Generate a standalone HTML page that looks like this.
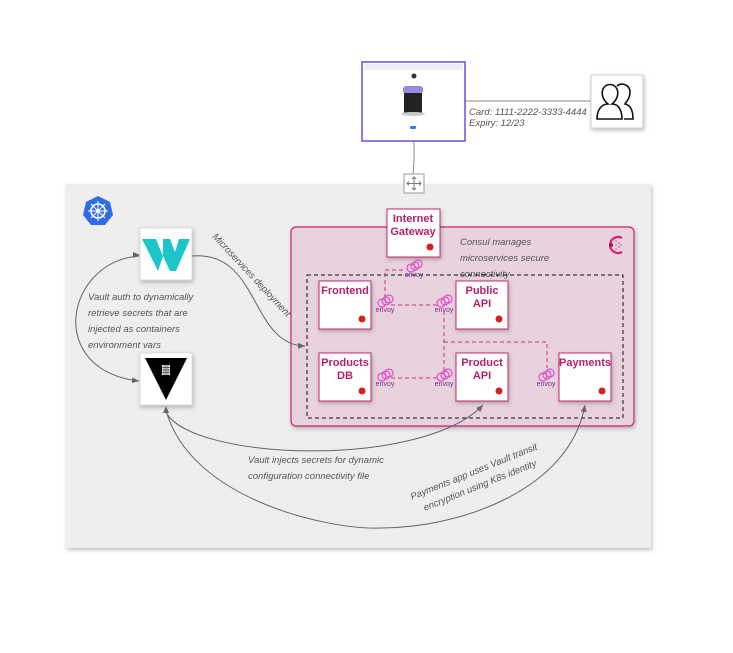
<!DOCTYPE html>
<html><head><style>
html,body{margin:0;padding:0;background:#fff;}
svg{display:block;}
.h{font-family:"Liberation Sans",sans-serif;font-style:italic;fill:#555;font-size:9.5px;}
.n{font-family:"Liberation Sans",sans-serif;font-weight:bold;fill:#b8206a;font-size:11px;text-anchor:middle;}
.ev{font-family:"Liberation Sans",sans-serif;fill:#7a2a8a;font-size:7px;text-anchor:middle;}
</style></head><body>
<svg width="733" height="653" viewBox="0 0 733 653" xmlns="http://www.w3.org/2000/svg">
<defs>
<filter id="sh" x="-10%" y="-10%" width="130%" height="130%"><feDropShadow dx="1" dy="2" stdDeviation="2" flood-color="#000" flood-opacity="0.25"/></filter>
<marker id="ar" markerWidth="8" markerHeight="8" refX="7" refY="4" orient="auto" markerUnits="userSpaceOnUse"><path d="M0,1 L7,4 L0,7 z" fill="#666"/></marker>
<g id="envoy">
<circle cx="-3" cy="0" r="4" fill="none" stroke="#e050c8" stroke-width="1.2"/>
<circle cx="1" cy="-2" r="4" fill="none" stroke="#e050c8" stroke-width="1.2"/>
<circle cx="4" cy="-4" r="4" fill="none" stroke="#e050c8" stroke-width="1.2"/>
<text x="0" y="9" class="ev">envoy</text>
</g>
</defs>
<rect x="66" y="184" width="585" height="364" fill="#eeeeee" filter="url(#sh)"/>
<polygon points="98,196 110,202 113,215 105,225 91,225 83,215 86,202" fill="#326ce5"/>
<circle cx="98" cy="211" r="7" fill="none" stroke="#fff" stroke-width="1.6"/>
<circle cx="98" cy="211" r="2" fill="#fff"/>
<path d="M98,201V221M88,211H108M91,204L105,218M105,204L91,218" stroke="#fff" stroke-width="1"/>
<line x1="414" y1="141" x2="414" y2="160" stroke="#888"/><line x1="414" y1="160" x2="413" y2="175" stroke="#888"/>
<line x1="465" y1="101" x2="591" y2="101" stroke="#888"/>
<rect x="362" y="62" width="103" height="79" fill="#fff" stroke="#6a4ee0" stroke-width="1.5"/>
<rect x="364" y="64" width="99" height="6" fill="#eee"/>
<circle cx="414" cy="76" r="2.5" fill="#333"/>
<rect x="403" y="86" width="20" height="8" rx="3" fill="#9a88d8"/>
<rect x="404" y="93" width="18" height="20" fill="#222"/>
<ellipse cx="413" cy="114" rx="12" ry="2" fill="#ccc"/>
<rect x="410" y="126" width="6" height="3" rx="1" fill="#2a7af0"/>
<text x="469" y="115" class="h" font-size="8">Card: 1111-2222-3333-4444</text>
<text x="469" y="126" class="h" font-size="8">Expiry: 12/23</text>
<rect x="591" y="75" width="52" height="53" fill="#fff" stroke="#ccc" filter="url(#sh)"/>
<path d="M597,119 C597,108 603,104 608,104 C603,100 601,94 603,89 C606,83 614,83 617,89 C619,94 617,100 612,104 C617,104 622,108 622,119 Z" fill="none" stroke="#111" stroke-width="1.6"/>
<path d="M617,86 C622,82 630,85 630,92 C630,98 627,101 625,104 C630,105 633,110 633,119 L624,119" fill="none" stroke="#111" stroke-width="1.6"/>
<rect x="404" y="174" width="20" height="19" fill="#fff" stroke="#999"/>
<path d="M414,177V190M407,183.5H421M412,179L414,177L416,179M412,188L414,190L416,188M409,181.5L407,183.5L409,185.5M419,181.5L421,183.5L419,185.5" stroke="#777" fill="none" stroke-width="1"/>
<rect x="291" y="227" width="343" height="199" rx="5" fill="#e8d2dd" stroke="#c8286e" stroke-width="1.2" filter="url(#sh)"/>
<path d="M622,238 A8,8 0 1 0 622,252" fill="none" stroke="#d81e6e" stroke-width="2.2"/>
<circle cx="611" cy="245" r="2" fill="#9b1c50"/>
<g fill="#e0408a"><circle cx="616" cy="241" r="0.8"/><circle cx="619" cy="243" r="0.8"/><circle cx="616" cy="245" r="0.8"/><circle cx="619" cy="247" r="0.8"/><circle cx="616" cy="249" r="0.8"/><circle cx="621" cy="245" r="0.8"/></g>
<text class="h" font-size="10"><tspan x="460" y="245">Consul manages</tspan><tspan x="460" y="261">microservices secure</tspan><tspan x="460" y="277">connectivity</tspan></text>
<rect x="307" y="275" width="316" height="143" fill="none" stroke="#111" stroke-dasharray="4,3"/>
<g stroke="#d6306e" stroke-dasharray="4,3" fill="none" stroke-width="1">
<path d="M385,298 V270 H405"/>
<path d="M391,305 H440"/>
<path d="M444,311 V373"/>
<path d="M444,342 H547 V368"/>
<path d="M391,378 H440"/>
</g>
<g filter="url(#sh)" fill="#fff" stroke="#c8286e" stroke-width="1">
<rect x="387" y="209" width="53" height="48"/>
<rect x="319" y="281" width="52" height="48"/>
<rect x="456" y="281" width="52" height="48"/>
<rect x="319" y="353" width="52" height="48"/>
<rect x="456" y="353" width="52" height="48"/>
<rect x="559" y="353" width="52" height="48"/>
</g>
<g fill="#d42020">
<circle cx="430" cy="247" r="3.5"/><circle cx="362" cy="319" r="3.5"/><circle cx="499" cy="319" r="3.5"/>
<circle cx="362" cy="391" r="3.5"/><circle cx="499" cy="391" r="3.5"/><circle cx="602" cy="391" r="3.5"/>
</g>
<text class="n" x="413" y="222">Internet</text><text class="n" x="413" y="235">Gateway</text>
<text class="n" x="345" y="294">Frontend</text>
<text class="n" x="482" y="294">Public</text><text class="n" x="482" y="307">API</text>
<text class="n" x="345" y="366">Products</text><text class="n" x="345" y="379">DB</text>
<text class="n" x="482" y="366">Product</text><text class="n" x="482" y="379">API</text>
<text class="n" x="585" y="366">Payments</text>
<use href="#envoy" x="414" y="268"/>
<use href="#envoy" x="385" y="303"/>
<use href="#envoy" x="444" y="303"/>
<use href="#envoy" x="385" y="377"/>
<use href="#envoy" x="444" y="377"/>
<use href="#envoy" x="546" y="377"/>
<rect x="140" y="228" width="52" height="52" fill="#fff" stroke="#ddd" filter="url(#sh)"/>
<path d="M142,239 H156 L163,256 L163,239 H170 L175,252 L179,239 H190 L176,271 H170 L163,256 L158,271 Z" fill="#1cc6c8"/>
<rect x="140" y="353" width="52" height="52" fill="#fff" stroke="#ddd" filter="url(#sh)"/>
<polygon points="145,358 187,358 166,400" fill="#000"/>
<g fill="#fff"><rect x="162" y="365" width="8" height="10"/></g>
<path d="M162,367.5H170M162,370H170M162,372.5H170M164,365V375M166,365V375M168,365V375" stroke="#000" stroke-width="0.6"/>
<g stroke="#666" fill="none" stroke-width="1">
<path d="M139,256 C65,262 45,370 139,381" marker-end="url(#ar)"/>
<path d="M192,256 C260,250 250,345 305,346" marker-end="url(#ar)"/>
<path d="M166,412 C190,460 420,470 483,405" marker-end="url(#ar)"/>
<path d="M166,410 C190,500 330,530 380,528 C460,528 570,490 585,405" marker-end="url(#ar)"/>
</g>
<path d="M140,255 L133,252 L133,258Z" fill="#666"/>
<path d="M166,406 L163,413 L169,413Z" fill="#666"/>
<text class="h" font-size="10"><tspan x="88" y="300">Vault auth to dynamically</tspan><tspan x="88" y="316">retrieve secrets that are</tspan><tspan x="88" y="332">injected as containers</tspan><tspan x="88" y="348">environment vars</tspan></text>
<text class="h" font-size="10" transform="translate(212,237) rotate(47)">Microservices deployment</text>
<text class="h" font-size="9.5"><tspan x="248" y="463">Vault injects secrets for dynamic</tspan><tspan x="248" y="479">configuration connectivity file</tspan></text>
<text class="h" font-size="9.5" transform="translate(412,500) rotate(-22)"><tspan x="0" y="0">Payments app uses Vault transit</tspan><tspan x="8" y="15">encryption using K8s identity</tspan></text>
</svg>
</body></html>
